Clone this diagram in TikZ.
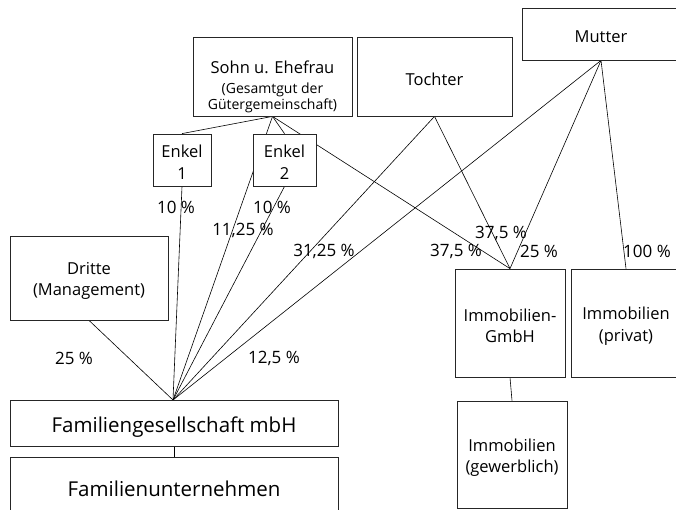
\documentclass[tikz,border=0pt]{standalone}
\usepackage{fontspec}
\setmainfont{Open Sans}
\usetikzlibrary{backgrounds}
\begin{document}
\begin{tikzpicture}[x=1pt,y=-1pt,
  box/.style={draw=black!85,line width=0.8pt,fill=white,inner sep=0pt},
  boxtext/.style={inner sep=0pt,align=center,yshift=-3pt,font=\fontsize{16.5}{21.5}\selectfont},
  bigtext/.style={boxtext,yshift=-1.5pt,font=\fontsize{20.5}{24}\selectfont},
  link/.style={draw=black,line width=0.6pt},
  pct/.style={inner sep=0pt,font=\fontsize{17}{20}\selectfont}]
\useasboundingbox (0,0) rectangle (676,509);
\node[box,minimum width=159pt,minimum height=79pt,
  label={[boxtext,yshift=-7pt]center:{Sohn u. Ehefrau\\[-1.5pt]{\fontsize{14}{17}\selectfont (Gesamtgut der}\\[-5.5pt]{\fontsize{14}{17}\selectfont Gütergemeinschaft)}}}] (sohn) at (272.5,76.5) {};
\node[box,minimum width=155pt,minimum height=79pt,label={[boxtext]center:Tochter}] (tochter) at (434.5,76.5) {};
\node[box,minimum width=158pt,minimum height=52pt,label={[boxtext]center:Mutter}] (mutter) at (601,34) {};
\node[box,minimum width=58pt,minimum height=52pt,label={[boxtext,yshift=1pt]center:{Enkel\\1}}] (enkel1) at (182,160) {};
\node[box,minimum width=63pt,minimum height=52pt,label={[boxtext,yshift=1pt]center:{Enkel\\2}}] (enkel2) at (284.5,160) {};
\node[box,minimum width=158pt,minimum height=84pt,label={[boxtext]center:{Dritte\\(Management)}}] (dritte) at (89,278) {};
\node[box,minimum width=328pt,minimum height=46pt,label={[bigtext]center:Familiengesellschaft mbH}] (fg) at (174,423) {};
\node[box,minimum width=328pt,minimum height=55pt,label={[bigtext]center:Familienunternehmen}] (fu) at (174,484.5) {};
\node[box,minimum width=110pt,minimum height=108pt,label={[boxtext]center:{Immobilien-\\GmbH}}] (igmbh) at (510,323) {};
\node[box,minimum width=110pt,minimum height=108pt,label={[boxtext]center:{Immobilien\\(privat)}}] (iprivat) at (626,323) {};
\node[box,minimum width=110pt,minimum height=107pt,label={[boxtext]center:{Immobilien\\(gewerblich)}}] (igew) at (512,454.5) {};
\coordinate (fgtop) at (173,400);
\begin{scope}[on background layer]
\draw[link] (sohn.south) -- (enkel1.north);
\draw[link] (sohn.south) -- (enkel2.north);
\draw[link] (sohn.south) -- (fgtop);
\draw[link] (sohn.south) -- (igmbh.north);
\draw[link] (enkel1.south) -- (fgtop);
\draw[link] (enkel2.south) -- (fgtop);
\draw[link] (tochter.south) -- (fgtop);
\draw[link] (tochter.south) -- (igmbh.north);
\draw[link] (mutter.south) -- (fgtop);
\draw[link] (mutter.south) -- (igmbh.north);
\draw[link] (mutter.south) -- (iprivat.north);
\draw[link] (dritte.south) -- (fgtop);
\draw[link] (fg.south) -- (fu.north);
\draw[link] (igmbh.south) -- (igew.north);
\end{scope}
\node[pct] (p1) at (176,207) {10 \%};
\node[pct] (p2) at (272,207) {10 \%};
\node[pct] (p3) at (243,230) {11,25 \%};
\node[pct] (p4) at (324,251) {31,25 \%};
\node[pct] (p5) at (456,251) {37,5 \%};
\node[pct] (p6) at (501,233) {37,5 \%};
\node[pct] (p7) at (539,251) {25 \%};
\node[pct] (p8) at (647,251) {100 \%};
\node[pct] (p9) at (274,358) {12,5 \%};
\node[pct] (p10) at (74,358) {25 \%};
\end{tikzpicture}
\end{document}
